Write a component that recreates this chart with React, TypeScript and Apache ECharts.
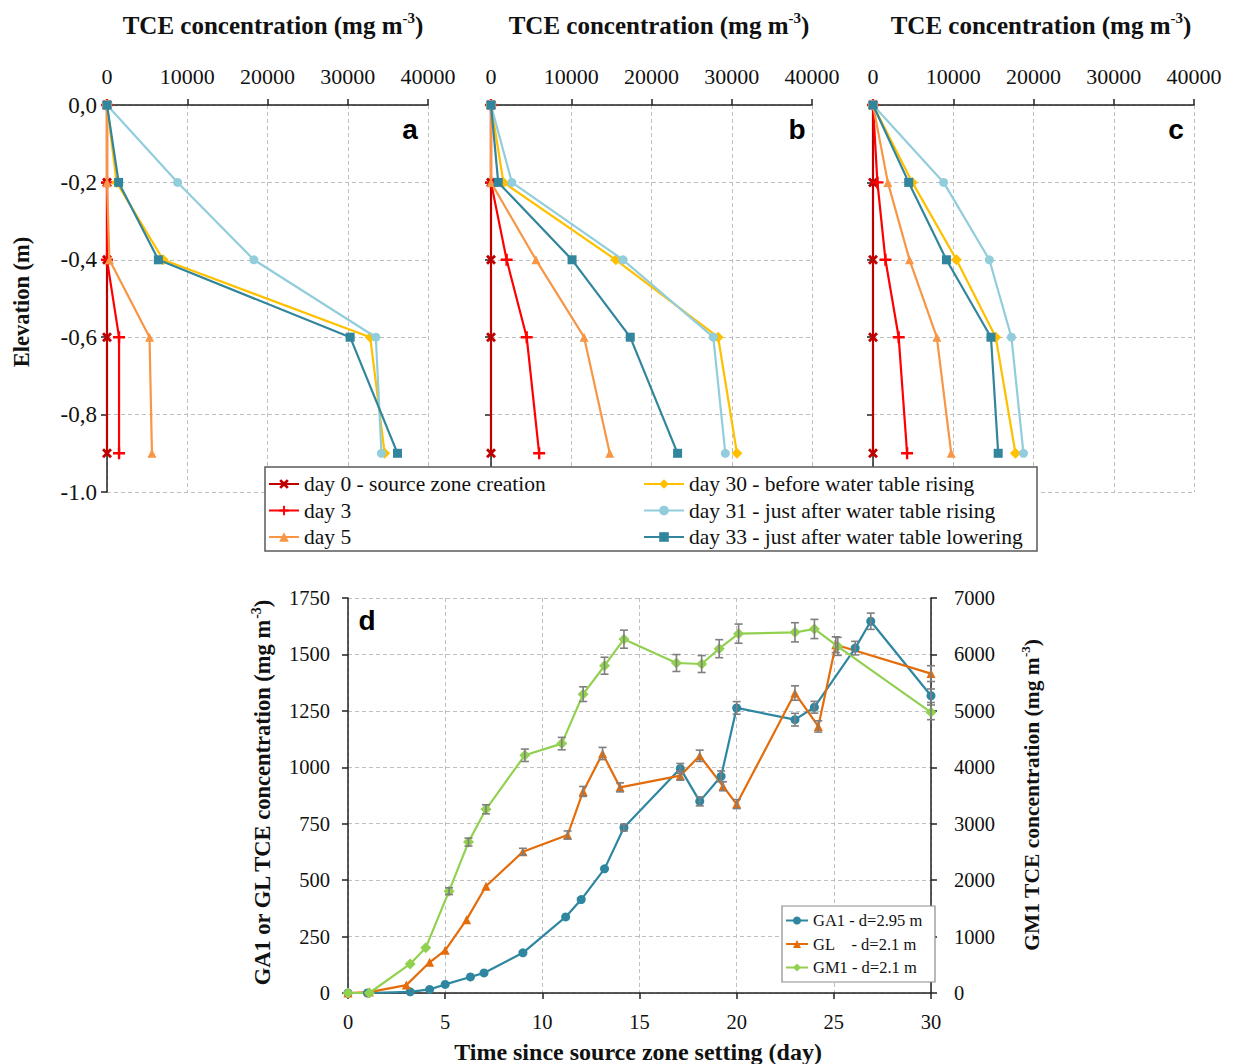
import React, { useEffect, useRef } from "react";
import * as echarts from "echarts";

// ---------- DATA ----------
const elevations = [0, -0.2, -0.4, -0.6, -0.9];
const seriesNames = [
  "day 0 - source zone creation",
  "day 3",
  "day 5",
  "day 30 - before water table rising",
  "day 31 - just after water table rising",
  "day 33 - just after water table lowering",
];
// panel a
const aDay0 = [0, 0, 0, 0, 0];
const aDay3 = [0, 0, 0, 1500, 1500];
const aDay5 = [0, 0, 300, 5300, 5600];
const aDay30 = [0, 1200, 7000, 32800, 34600];
const aDay31 = [0, 8800, 18300, 33500, 34200];
const aDay33 = [0, 1450, 6400, 30300, 36200];
// panel b
const bDay0 = [0, 0, 0, 0, 0];
const bDay3 = [0, 0, 1950, 4450, 6000];
const bDay5 = [0, 0, 5600, 11600, 14800];
const bDay30 = [0, 1550, 15550, 28300, 30650];
const bDay31 = [0, 2600, 16450, 27700, 29200];
const bDay33 = [0, 900, 10100, 17350, 23250];
// panel c
const cDay0 = [0, 0, 0, 0, 0];
const cDay3 = [0, 550, 1550, 3200, 4250];
const cDay5 = [0, 1850, 4550, 7950, 9750];
const cDay30 = [0, 4900, 10400, 15300, 17750];
const cDay31 = [0, 8800, 14500, 17250, 18750];
const cDay33 = [0, 4450, 9150, 14700, 15600];

// panel d
const ga1Days = [0, 1, 3.2, 4.2, 5.0, 6.3, 7.0, 9.0, 11.2, 12.0, 13.2, 14.2, 17.1, 18.1, 19.2, 20.0, 23.0, 24.0, 26.1, 26.9, 30.0];
const ga1Vals = [0, 0, 5, 16, 38, 71, 89, 178, 337, 414, 550, 733, 995, 849, 960, 1263, 1211, 1266, 1528, 1647, 1317];
const ga1Err = [0, 0, 0, 0, 0, 0, 0, 0, 0, 0, 0, 15, 22, 20, 24, 28, 28, 26, 30, 36, 30];
const glDays = [0, 1.1, 3.0, 4.2, 5.0, 6.1, 7.1, 9.0, 11.3, 12.1, 13.1, 14.0, 17.1, 18.1, 19.3, 20.0, 23.0, 24.2, 25.1, 30.0];
const glVals = [0, 4, 35, 136, 189, 325, 473, 626, 700, 893, 1061, 911, 963, 1051, 916, 837, 1329, 1181, 1543, 1415];
const glErr = [0, 0, 0, 0, 0, 0, 0, 15, 18, 22, 27, 20, 20, 25, 20, 20, 32, 25, 35, 35];
const gm1Days = [0, 1.1, 3.2, 4.0, 5.2, 6.2, 7.1, 9.1, 11.0, 12.1, 13.2, 14.2, 16.9, 18.2, 19.1, 20.1, 23.0, 24.0, 25.2, 30.0];
const gm1Vals = [0, 0, 515, 800, 1805, 2675, 3255, 4213, 4420, 5296, 5800, 6270, 5848, 5830, 6102, 6368, 6392, 6451, 6143, 4974];
const gm1Err = [0, 0, 0, 0, 60, 70, 80, 110, 110, 130, 150, 160, 150, 150, 160, 170, 170, 170, 160, 130];
const dNames = ["GA1 - d=2.95 m", "GL\u00a0\u00a0\u00a0\u00a0- d=2.1 m", "GM1 - d=2.1 m"];

// ---------- STYLE ----------
const SERIF = "'Liberation Serif', 'Times New Roman', serif";
const SANS = "'Liberation Sans', Arial, sans-serif";
const dayColors = ["#C00000", "#FF0000", "#F79646", "#FFC000", "#92CDDC", "#31859C"];
const daySymbols = [
  "path://M0,2 L2,0 L5,3 L8,0 L10,2 L7,5 L10,8 L8,10 L5,7 L2,10 L0,8 L3,5 Z",
  "path://M4,0H6V4H10V6H6V10H4V6H0V4H4Z",
  "triangle",
  "diamond",
  "circle",
  "rect",
];
const daySizes = [10, 12, 9, 11, 9, 9];
const dColors = ["#2E86A1", "#E46C0A", "#92D050"];
const dSymbols = ["circle", "triangle", "diamond"];

const panelGrids = [
  { left: 107, top: 105, width: 321, height: 387 },
  { left: 491, top: 105, width: 321, height: 387 },
  { left: 873, top: 105, width: 321, height: 387 },
];
const panelData = [
  [aDay0, aDay3, aDay5, aDay30, aDay31, aDay33],
  [bDay0, bDay3, bDay5, bDay30, bDay31, bDay33],
  [cDay0, cDay3, cDay5, cDay30, cDay31, cDay33],
];

function errRender(params: any, api: any) {
  const x = api.value(0);
  const y = api.value(1);
  const e = api.value(2);
  if (!e) return null;
  const t = api.coord([x, y + e]);
  const b = api.coord([x, y - e]);
  const w = 4;
  const st = { stroke: "#7F7F7F", lineWidth: 1.6 };
  return {
    type: "group",
    children: [
      { type: "line", shape: { x1: t[0], y1: t[1], x2: b[0], y2: b[1] }, style: st },
      { type: "line", shape: { x1: t[0] - w, y1: t[1], x2: t[0] + w, y2: t[1] }, style: st },
      { type: "line", shape: { x1: b[0] - w, y1: b[1], x2: b[0] + w, y2: b[1] }, style: st },
    ],
  };
}

function superTitle(text: string, size: number) {
  return {
    text: `{a|${text}}{b|-3}{a|)}`,
    rich: {
      a: { fontSize: size, fontWeight: "bold", fontFamily: SERIF, fill: "#111", verticalAlign: "bottom", lineHeight: size + 2 },
      b: { fontSize: Math.round(size * 0.6), fontWeight: "bold", fontFamily: SERIF, fill: "#111", verticalAlign: "top", lineHeight: size + 2 },
    },
  };
}

export default function App() {
  const ref = useRef<HTMLDivElement>(null);
  useEffect(() => {
    if (!ref.current) return;
    const chart = echarts.init(ref.current, undefined, { renderer: "svg" });

    const grids: any[] = panelGrids.map((g) => ({ ...g, containLabel: false }));
    grids.push({ left: 348, top: 598, width: 583, height: 395, containLabel: false });

    const axisLabelBase = { color: "#111", fontFamily: SERIF, fontSize: 22 };
    const splitDash = { show: true, lineStyle: { color: "#BFBFBF", type: [4, 3], width: 1 } };

    const xAxes: any[] = panelGrids.map((_, i) => ({
      type: "value",
      gridIndex: i,
      position: "top",
      min: 0,
      max: 40000,
      interval: 10000,
      axisLine: { show: true, onZero: false, lineStyle: { color: "#222", width: 1.5 } },
      axisTick: { show: true, length: 6, lineStyle: { color: "#222", width: 1.5 } },
      axisLabel: { ...axisLabelBase, margin: 18, formatter: (v: number) => String(v) },
      splitLine: splitDash,
    }));
    xAxes.push({
      type: "value",
      gridIndex: 3,
      position: "bottom",
      min: 0,
      max: 30,
      interval: 5,
      axisLine: { show: true, onZero: false, lineStyle: { color: "#222", width: 1.5 } },
      axisTick: { show: true, length: 6, lineStyle: { color: "#222", width: 1.5 } },
      axisLabel: { ...axisLabelBase, fontSize: 20.5, margin: 18 },
      splitLine: splitDash,
    });

    const yAxes: any[] = panelGrids.map((_, i) => ({
      type: "value",
      gridIndex: i,
      min: -1,
      max: 0,
      interval: 0.2,
      axisLine: { show: true, onZero: false, lineStyle: { color: "#222", width: 1.5 } },
      axisTick: { show: true, length: 6, lineStyle: { color: "#222", width: 1.5 } },
      axisLabel: {
        ...axisLabelBase,
        fontSize: 23,
        show: i === 0,
        margin: 10,
        formatter: (v: number) => (Math.abs(v + 1) < 1e-6 ? "-1.0" : v.toFixed(1).replace(".", ",").replace("-0,0", "0,0")),
      },
      splitLine: splitDash,
    }));
    yAxes.push({
      type: "value",
      gridIndex: 3,
      position: "left",
      min: 0,
      max: 1750,
      interval: 250,
      axisLine: { show: true, onZero: false, lineStyle: { color: "#222", width: 1.5 } },
      axisTick: { show: true, length: 6, lineStyle: { color: "#222", width: 1.5 } },
      axisLabel: { ...axisLabelBase, fontSize: 20.5, margin: 18, formatter: (v: number) => String(v) },
      splitLine: splitDash,
    });
    yAxes.push({
      type: "value",
      gridIndex: 3,
      position: "right",
      min: 0,
      max: 7000,
      interval: 1000,
      axisLine: { show: true, onZero: false, lineStyle: { color: "#222", width: 1.5 } },
      axisTick: { show: true, length: 6, lineStyle: { color: "#222", width: 1.5 } },
      axisLabel: { ...axisLabelBase, fontSize: 20.5, margin: 23, formatter: (v: number) => String(v) },
      splitLine: { show: false },
    });

    const series: any[] = [];
    panelData.forEach((arrs, p) => {
      arrs.forEach((vals, k) => {
        series.push({
          type: "line",
          name: seriesNames[k],
          xAxisIndex: p,
          yAxisIndex: p,
          data: vals.map((v, j) => [v, elevations[j]]),
          symbol: daySymbols[k],
          symbolSize: daySizes[k],
          lineStyle: { color: dayColors[k], width: 2.2 },
          itemStyle: { color: dayColors[k] },
          z: 2 + k * 0.1,
          clip: false,
        });
      });
    });

    const dSets = [
      { days: ga1Days, vals: ga1Vals, err: ga1Err, y: 3 },
      { days: glDays, vals: glVals, err: glErr, y: 3 },
      { days: gm1Days, vals: gm1Vals, err: gm1Err, y: 4 },
    ];
    dSets.forEach((s, k) => {
      series.push({
        type: "line",
        name: dNames[k],
        xAxisIndex: 3,
        yAxisIndex: s.y,
        data: s.days.map((d, j) => [d, s.vals[j]]),
        symbol: dSymbols[k],
        symbolSize: k === 2 ? 11 : 9,
        lineStyle: { color: dColors[k], width: 2.2 },
        itemStyle: { color: dColors[k] },
        z: 3,
        clip: false,
      });
      series.push({
        type: "custom",
        xAxisIndex: 3,
        yAxisIndex: s.y,
        renderItem: errRender,
        data: s.days.map((d, j) => [d, s.vals[j], s.err[j]]),
        encode: { x: 0, y: 1 },
        z: 5,
        silent: true,
      });
    });

    const legendText = { fontFamily: SERIF, fontSize: 21.5, color: "#111", lineHeight: 22 };

    const titleCenters = [273, 659, 1041];
    const graphic: any[] = [];
    titleCenters.forEach((cx) => {
      graphic.push({
        type: "text",
        x: cx,
        y: 24,
        style: { ...superTitle("TCE concentration (mg m", 25), align: "center", verticalAlign: "middle" },
      });
    });
    [
      { t: "a", x: 410, y: 129 },
      { t: "b", x: 797, y: 129 },
      { t: "c", x: 1176, y: 129 },
      { t: "d", x: 367, y: 620 },
    ].forEach((l) =>
      graphic.push({
        type: "text",
        x: l.x,
        y: l.y,
        style: { text: l.t, fontFamily: SANS, fontWeight: "bold", fontSize: 28, fill: "#000", align: "center", verticalAlign: "middle" },
      })
    );
    graphic.push({
      type: "text",
      x: 21,
      y: 302,
      rotation: Math.PI / 2,
      style: { text: "Elevation (m)", fontFamily: SERIF, fontWeight: "bold", fontSize: 22.5, fill: "#111", align: "center", verticalAlign: "middle" },
    });
    graphic.push({
      type: "text",
      x: 262,
      y: 793,
      rotation: Math.PI / 2,
      style: { ...superTitle("GA1 or GL TCE concentration (mg m", 22.5), align: "center", verticalAlign: "middle" },
    });
    graphic.push({
      type: "text",
      x: 1031,
      y: 795,
      rotation: Math.PI / 2,
      style: { ...superTitle("GM1 TCE concentration (mg m", 21.5), align: "center", verticalAlign: "middle" },
    });
    graphic.push({
      type: "text",
      x: 638,
      y: 1052,
      style: { text: "Time since source zone setting (day)", fontFamily: SERIF, fontWeight: "bold", fontSize: 24, fill: "#111", align: "center", verticalAlign: "middle" },
    });
    graphic.push({
      type: "rect",
      z: 50,
      shape: { x: 265, y: 467, width: 772, height: 84 },
      style: { fill: "#fff", stroke: "#595959", lineWidth: 1.5 },
    });
    graphic.push({
      type: "rect",
      z: 50,
      shape: { x: 782, y: 906, width: 153, height: 76 },
      style: { fill: "#fff", stroke: "#8C8C8C", lineWidth: 1.2 },
    });

    chart.setOption({
      animation: false,
      backgroundColor: "#fff",
      grid: grids,
      xAxis: xAxes,
      yAxis: yAxes,
      series,
      graphic,
      legend: [
        {
          data: seriesNames.slice(0, 3),
          orient: "vertical",
          left: 268,
          top: 473,
          padding: 0,
          itemWidth: 30,
          itemHeight: 12,
          itemGap: 4.5,
          textStyle: legendText,
          z: 60,
          selectedMode: false,
        },
        {
          data: seriesNames.slice(3),
          orient: "vertical",
          left: 643,
          top: 473,
          padding: 0,
          itemWidth: 40,
          itemHeight: 12,
          itemGap: 4.5,
          textStyle: legendText,
          z: 60,
          selectedMode: false,
        },
        {
          data: dNames,
          orient: "vertical",
          left: 785,
          top: 912,
          padding: 0,
          itemWidth: 22,
          itemHeight: 10,
          itemGap: 6.5,
          textStyle: { fontFamily: SERIF, fontSize: 16.5, color: "#111", lineHeight: 17 },
          z: 60,
          selectedMode: false,
        },
      ],
    });
    return () => chart.dispose();
  }, []);
  return <div ref={ref} style={{ position: "fixed", left: 0, top: 0, width: 1236, height: 1064 }} />;
}
